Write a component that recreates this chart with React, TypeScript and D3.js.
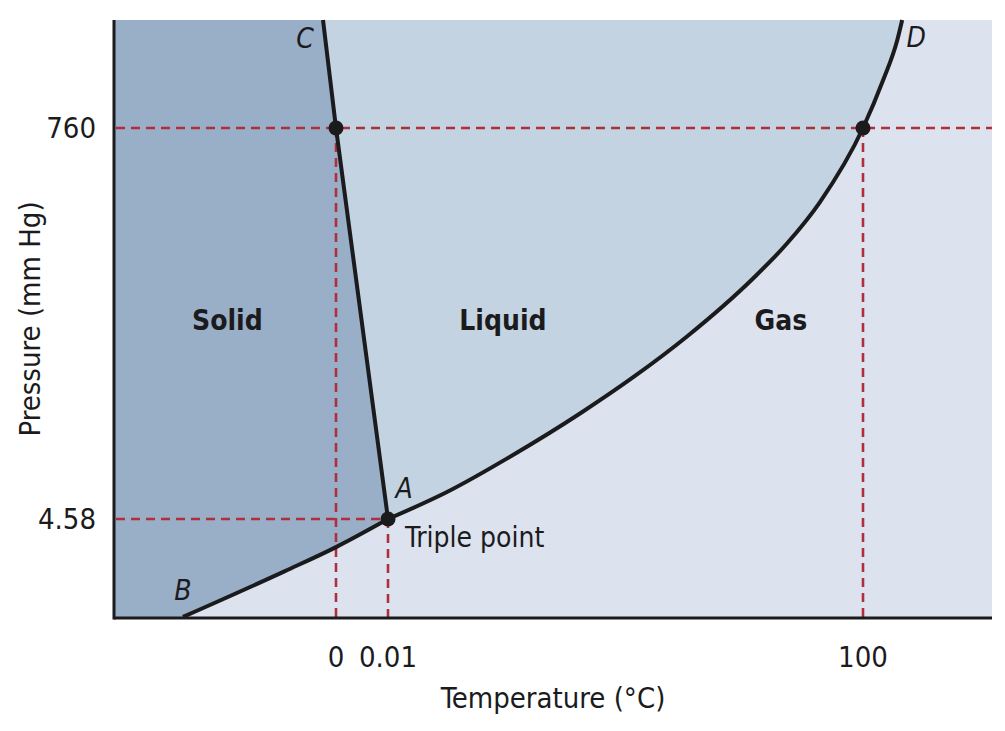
import React from "react";
import * as d3 from "d3";

// ---- Data (schematic phase diagram of water) ----
const xTicks = [0, 0.01, 100];
const yTicks = [4.58, 760];
const xTickLabels = ["0", "0.01", "100"];
const yTickLabels = ["4.58", "760"];

// Schematic (broken) axis domains
const xDomain = [-47, 0, 0.01, 100, 127];
const yDomain = [0, 4.58, 760, 970];

// Phase boundaries [T (°C), P (mm Hg)] in schematic units
const sublimationCurve: [number, number][] = [
  [-32.4, 0.05], [-10.8, 2.17], [0, 3.28], [0.01, 4.58],
];
const fusionCurve: [number, number][] = [
  [0.01, 4.58], [0, 760], [-2.75, 970],
];
const vaporizationCurve: [number, number][] = [
  [0.01, 4.58], [12.43, 56.7], [26.32, 128.2], [40.43, 208.4], [52.0, 280.9],
  [62.95, 357.2], [76.85, 469.2], [83.99, 536.8], [90.94, 617.0], [100, 760],
  [104.2, 852.7], [107.15, 930], [108.2, 970],
];

const keyPoints: [number, number][] = [[0, 760], [100, 760], [0.01, 4.58]];

const phaseLabels = [
  { name: "Solid", t: -23, p: 389 },
  { name: "Liquid", t: 24.2, p: 389 },
  { name: "Gas", t: 82.7, p: 389 },
];

const pointLetters = [
  { name: "C", t: -2.75, p: 970, dx: -18, dy: 28 },
  { name: "D", t: 108.2, p: 970, dx: 14, dy: 27 },
  { name: "A", t: 0.01, p: 4.58, dx: 16, dy: -21 },
  { name: "B", t: -32.4, p: 0.05, dx: 0, dy: -17 },
];

const W = 1005;
const H = 731;
const left = 114, right = 992, top = 20, bottom = 618;

const FONT = "'Liberation Sans Narrow', 'DejaVu Sans Condensed', 'Roboto Condensed', 'Arial Narrow', sans-serif";

export default function App() {
  const xRange = [left, 336, 388, 863, right];
  const yRange = [bottom, 519, 128, top];
  const x = d3.scaleLinear().domain(xDomain).range(xRange);
  const y = d3.scaleLinear().domain(yDomain).range(yRange);

  const line = d3.line<[number, number]>().x(d => x(d[0])).y(d => y(d[1]));
  const curved = d3.line<[number, number]>().x(d => x(d[0])).y(d => y(d[1])).curve(d3.curveMonotoneX);

  const xMin = xDomain[0], xMax = xDomain[xDomain.length - 1];
  const yMin = yDomain[0], yMax = yDomain[yDomain.length - 1];

  const subPath = curved(sublimationCurve) || "";
  const vapPath = curved(vaporizationCurve) || "";
  const fusPath = line(fusionCurve) || "";

  const solidPath = (() => {
    const p = d3.path();
    p.moveTo(x(xMin), y(yMax));
    p.lineTo(x(xMin), y(yMin));
    p.lineTo(x(sublimationCurve[0][0]), y(sublimationCurve[0][1]));
    return p.toString() + "L" + subPath.slice(1) + "L" + fusionCurve.slice(1).map(d => `${x(d[0])},${y(d[1])}`).join("L") + "Z";
  })();
  const liquidPath = (() => {
    const rev = curved(vaporizationCurve.slice().reverse()) || "";
    return fusPath + "L" + rev.slice(1) + "Z";
  })();

  const dash = "#b02f3d";
  const dashArr = "9 6";
  const ink = "#1b1b1d";

  return (
    <svg width={W} height={H} style={{ position: "absolute", left: 0, top: 0, background: "#fff" }} fontFamily={FONT}>
      {/* Gas (background) */}
      <rect x={x(xMin)} y={y(yMax)} width={x(xMax) - x(xMin)} height={y(yMin) - y(yMax)} fill="#dde3ee" />
      <path d={liquidPath} fill="#c3d3e1" />
      <path d={solidPath} fill="#99aec7" />

      {/* Dashed reference lines */}
      <g stroke={dash} strokeWidth={2.6} strokeDasharray={dashArr} fill="none">
        <line x1={x(xMin) + 2} x2={x(xMax)} y1={y(760)} y2={y(760)} />
        <line x1={x(xMin) + 2} x2={x(0.01)} y1={y(4.58)} y2={y(4.58)} />
        <line x1={x(0)} x2={x(0)} y1={y(760)} y2={y(yMin)} />
        <line x1={x(0.01)} x2={x(0.01)} y1={y(4.58)} y2={y(yMin)} />
        <line x1={x(100)} x2={x(100)} y1={y(760)} y2={y(yMin)} />
      </g>

      {/* Phase boundaries */}
      <g stroke={ink} strokeWidth={4} fill="none" strokeLinecap="butt">
        <path d={subPath} />
        <path d={fusPath} />
        <path d={vapPath} />
      </g>

      {keyPoints.map((d, i) => (
        <circle key={i} cx={x(d[0])} cy={y(d[1])} r={7.5} fill={ink} />
      ))}

      {/* Axes */}
      <line x1={x(xMin)} x2={x(xMin)} y1={y(yMax)} y2={y(yMin) + 1.5} stroke={ink} strokeWidth={3} />
      <line x1={x(xMin)} x2={x(xMax)} y1={y(yMin)} y2={y(yMin)} stroke={ink} strokeWidth={3} />

      {/* Tick labels */}
      {xTicks.map((t, i) => (
        <text key={i} x={x(t)} y={667} textAnchor="middle" fontSize={29} fill={ink}>{xTickLabels[i]}</text>
      ))}
      {yTicks.map((t, i) => (
        <text key={i} x={96} y={y(t)} dy="0.36em" textAnchor="end" fontSize={29} fill={ink}>{yTickLabels[i]}</text>
      ))}

      {/* Axis titles */}
      <text x={(left + right) / 2} y={708} textAnchor="middle" fontSize={29} fill={ink}>Temperature (°C)</text>
      <text transform={`translate(40,${(top + bottom) / 2}) rotate(-90)`} textAnchor="middle" fontSize={29} fill={ink}>Pressure (mm Hg)</text>

      {/* Phase labels */}
      {phaseLabels.map((l, i) => (
        <text key={i} x={x(l.t)} y={y(l.p)} dy="0.36em" textAnchor="middle" fontSize={28} fontWeight="bold" fill={ink}>{l.name}</text>
      ))}

      {/* Point letters */}
      {pointLetters.map((l, i) => (
        <text key={i} x={x(l.t) + l.dx} y={y(l.p) + l.dy} textAnchor="middle" fontSize={28} fontStyle="italic" fill={ink}>{l.name}</text>
      ))}
      <text x={x(0.01) + 17} y={y(4.58) + 28} fontSize={28} fill={ink}>Triple point</text>
    </svg>
  );
}
